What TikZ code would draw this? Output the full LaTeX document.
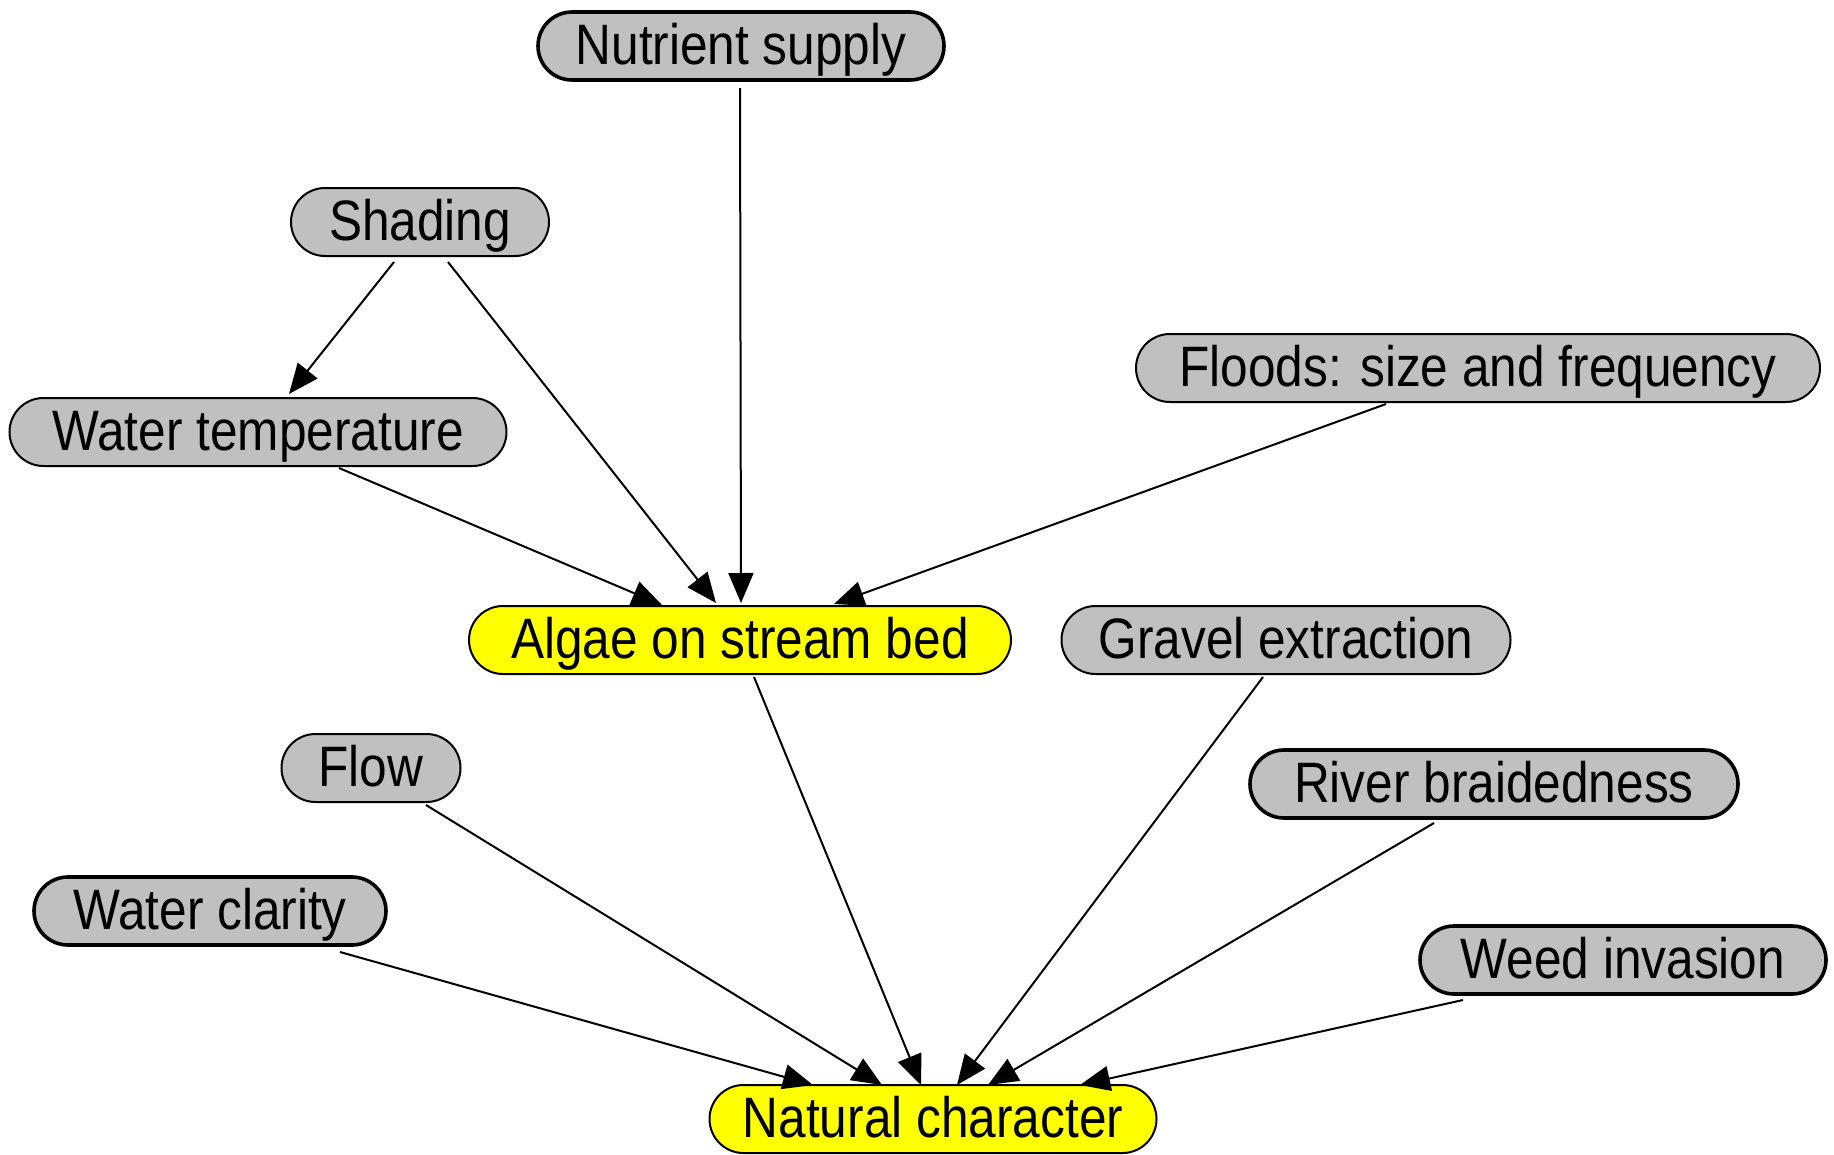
\documentclass[tikz,border=0pt]{standalone}
\usepackage{fontspec}
\setmainfont{Liberation Sans}[FakeStretch=0.87]
\usetikzlibrary{arrows.meta}
\definecolor{ngray}{HTML}{C0C0C0}
\definecolor{nyellow}{HTML}{FFFF00}
\tikzset{
  gnode/.style={draw=black, line width=2pt, fill=ngray, rectangle, rounded corners=34pt,
    minimum height=68pt, inner sep=0pt, text height=48pt, text depth=11pt,
    font=\fontsize{57}{68}\selectfont},
  ynode/.style={gnode, fill=nyellow},
  thick border/.style={line width=3.6pt},
  edge/.style={line width=2pt, -{Triangle[length=30pt,width=25pt]}}
}
\begin{document}
\begin{tikzpicture}[x=1pt,y=-1pt]
\useasboundingbox (0,0) rectangle (1834,1154);
\node[gnode, thick border, minimum width=406pt] (nut) at (741,46) {Nutrient supply};
\node[gnode, minimum width=258pt] (shade) at (420,222) {Shading};
\node[gnode, minimum width=497pt] (wt) at (258,432) {Water temperature};
\node[gnode, minimum width=684pt] (flood) at (1478,368) {Floods: size and frequency};
\node[ynode, minimum width=542pt] (algae) at (740,640) {Algae on stream bed};
\node[gnode, minimum width=449pt] (gravel) at (1286,640) {Gravel extraction};
\node[gnode, minimum width=179pt] (flow) at (371,768) {Flow};
\node[gnode, thick border, minimum width=488pt] (river) at (1494,784) {River braidedness};
\node[gnode, thick border, minimum width=352pt] (clar) at (210,911) {Water clarity};
\node[gnode, thick border, minimum width=406pt] (weed) at (1623,960) {Weed invasion};
\node[ynode, minimum width=447pt] (nat) at (933,1119) {Natural character};

\draw[edge] ([shift={(-1,42)}]nut.center) -- ([shift={(1,-37)}]algae.center);
\draw[edge] ([shift={(-26,40)}]shade.center) -- ([shift={(31,-38)}]wt.center);
\draw[edge] ([shift={(28,40)}]shade.center) -- ([shift={(-24,-37)}]algae.center);
\draw[edge] ([shift={(81,36)}]wt.center) -- ([shift={(-78,-35)}]algae.center);
\draw[edge] ([shift={(-92,36)}]flood.center) -- ([shift={(94,-36)}]algae.center);
\draw[edge] ([shift={(14,37)}]algae.center) -- ([shift={(-12,-34)}]nat.center);
\draw[edge] ([shift={(-23,37)}]gravel.center) -- ([shift={(24,-34)}]nat.center);
\draw[edge] ([shift={(55,37)}]flow.center) -- ([shift={(-51,-34)}]nat.center);
\draw[edge] ([shift={(-60,39)}]river.center) -- ([shift={(55,-34)}]nat.center);
\draw[edge] ([shift={(130,41)}]clar.center) -- ([shift={(-120,-34)}]nat.center);
\draw[edge] ([shift={(-160,40)}]weed.center) -- ([shift={(147,-34)}]nat.center);
\end{tikzpicture}
\end{document}
